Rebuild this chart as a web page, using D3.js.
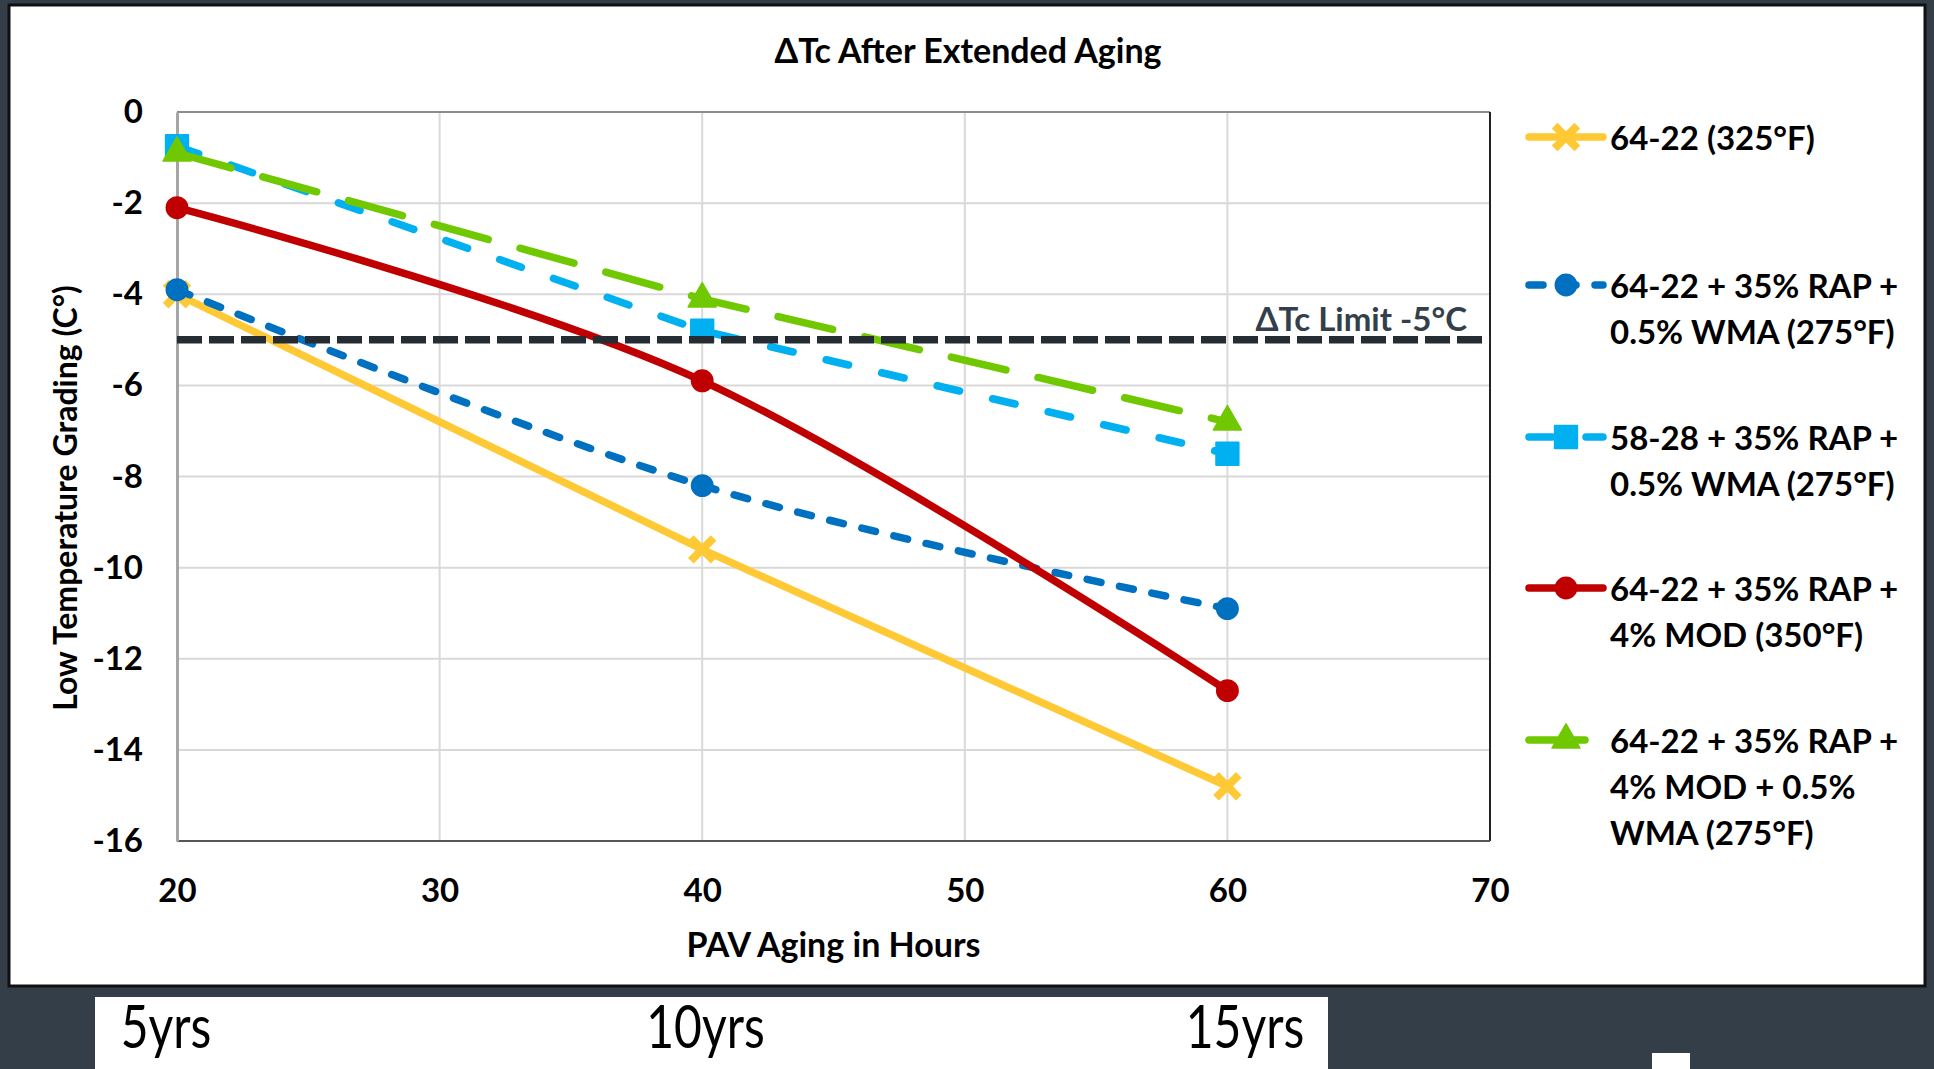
<!DOCTYPE html>
<html>
<head>
<meta charset="utf-8">
<title>ΔTc After Extended Aging</title>
<script src="https://cdn.jsdelivr.net/npm/d3@7"></script>
<style>
  html, body { margin: 0; padding: 0; background: #343e48; }
  svg { display: block; }
  text { font-family: Lato, "Open Sans", sans-serif; }
</style>
</head>
<body>
<svg id="chart" width="1934" height="1069"></svg>
<script>
// PAV aging hours at which each binder was tested
const hours = [20, 40, 60];

// ΔTc (°C) for each binder blend
const plain6422 = [-4.0, -9.6, -14.8];
const rapWma6422 = [-3.9, -8.2, -10.9];
const rapWma5828 = [-0.75, -4.8, -7.5];
const rapMod6422 = [-2.1, -5.9, -12.7];
const rapModWma6422 = [-0.9, -4.1, -6.8];

// Legend labels, one array entry per wrapped line
const labelPlain6422 = ["64-22 (325°F)"];
const labelRapWma6422 = ["64-22 + 35% RAP +", "0.5% WMA (275°F)"];
const labelRapWma5828 = ["58-28 + 35% RAP +", "0.5% WMA (275°F)"];
const labelRapMod6422 = ["64-22 + 35% RAP +", "4% MOD (350°F)"];
const labelRapModWma6422 = ["64-22 + 35% RAP +", "4% MOD + 0.5%", "WMA (275°F)"];

const limitValue = -5;
const limitLabel = "ΔTc Limit -5°C";

const xTicks = [20, 30, 40, 50, 60, 70];
const yTicks = [0, -2, -4, -6, -8, -10, -12, -14, -16];
const serviceYears = ["5yrs", "10yrs", "15yrs"];

const svg = d3.select("#chart");
const W = 1934, H = 1069;

// Frame: dark backdrop, white chart card, white caption strip
svg.append("rect").attr("width", W).attr("height", H).attr("fill", "#343e48");
svg.append("rect").attr("x", 9).attr("y", 5).attr("width", 1916).attr("height", 981)
  .attr("fill", "#ffffff").attr("stroke", "#111111").attr("stroke-width", 3);
svg.append("rect").attr("x", 95).attr("y", 997).attr("width", 1233).attr("height", 80).attr("fill", "#ffffff");
svg.append("rect").attr("x", 1652).attr("y", 1053).attr("width", 38).attr("height", 20).attr("fill", "#ffffff");

const plot = { left: 177, right: 1490, top: 112, bottom: 841 };
const x = d3.scaleLinear().domain([20, 70]).range([plot.left, plot.right]);
const y = d3.scaleLinear().domain([0, -16]).range([plot.top, plot.bottom]);

// Gridlines
const grid = svg.append("g");
grid.selectAll("line.gx").data(xTicks.slice(1)).join("line")
  .attr("x1", d => x(d)).attr("x2", d => x(d))
  .attr("y1", plot.top).attr("y2", plot.bottom)
  .attr("stroke", "#d9d9d9").attr("stroke-width", 2);
grid.selectAll("line.gy").data(yTicks.slice(1, -1)).join("line")
  .attr("x1", plot.left).attr("x2", plot.right)
  .attr("y1", d => y(d)).attr("y2", d => y(d))
  .attr("stroke", "#d9d9d9").attr("stroke-width", 2);

// Plot border
svg.append("line").attr("x1", plot.left).attr("x2", plot.right).attr("y1", plot.top).attr("y2", plot.top)
  .attr("stroke", "#8c8c8c").attr("stroke-width", 2);
svg.append("line").attr("x1", plot.right).attr("x2", plot.right).attr("y1", plot.top).attr("y2", plot.bottom)
  .attr("stroke", "#222222").attr("stroke-width", 2);
svg.append("line").attr("x1", plot.left).attr("x2", plot.right).attr("y1", plot.bottom).attr("y2", plot.bottom)
  .attr("stroke", "#555555").attr("stroke-width", 2);

// Axes (plain hyphen for negatives)
const yAxis = d3.axisLeft(y).tickValues(yTicks).tickSize(0).tickPadding(34).tickFormat(d => String(d));
const gy = svg.append("g").attr("transform", `translate(${plot.left},0)`).call(yAxis);
gy.select(".domain").attr("stroke", "#a6a6a6").attr("stroke-width", 3);
gy.selectAll("text").attr("font-size", 33).attr("font-weight", 700).attr("fill", "#000")
  .attr("font-family", "Lato, sans-serif");

const xAxis = d3.axisBottom(x).tickValues(xTicks).tickSize(0).tickPadding(38).tickFormat(d => String(d));
const gx = svg.append("g").attr("transform", `translate(0,${plot.bottom})`).call(xAxis);
gx.select(".domain").remove();
gx.selectAll("text").attr("font-size", 33).attr("font-weight", 700).attr("fill", "#000")
  .attr("font-family", "Lato, sans-serif");

// Titles
svg.append("text").attr("x", 968).attr("y", 49).attr("text-anchor", "middle").attr("dominant-baseline", "central")
  .attr("font-size", 34).attr("font-weight", 700).text("ΔTc After Extended Aging");
svg.append("text").attr("x", (plot.left + plot.right) / 2).attr("y", 943).attr("text-anchor", "middle")
  .attr("dominant-baseline", "central").attr("font-size", 34).attr("font-weight", 700).text("PAV Aging in Hours");
svg.append("text").attr("transform", "translate(64,498) rotate(-90)").attr("text-anchor", "middle")
  .attr("dominant-baseline", "central").attr("font-size", 32).attr("font-weight", 700)
  .text("Low Temperature Grading (C°)");

// Series definitions
const series = [
  { values: plain6422, label: labelPlain6422, color: "#ffc935", dash: null, curve: d3.curveLinear, marker: "x" },
  { values: rapWma6422, label: labelRapWma6422, color: "#0070c0", dash: "14,19", curve: d3.curveCardinal.tension(0), marker: "circle" },
  { values: rapWma5828, label: labelRapWma5828, color: "#00b0f0", dash: "23,34", curve: d3.curveLinear, marker: "square" },
  { values: rapMod6422, label: labelRapMod6422, color: "#c00000", dash: null, curve: d3.curveCardinal.tension(0), marker: "circle" },
  { values: rapModWma6422, label: labelRapModWma6422, color: "#70c800", dash: "56,33", curve: d3.curveLinear, marker: "triangle" }
];

const symbolFor = {
  x: d3.symbol().type(d3.symbolX).size(340),
  circle: d3.symbol().type(d3.symbolCircle).size(360),
  square: d3.symbol().type(d3.symbolSquare).size(500),
  triangle: d3.symbol().type(d3.symbolTriangle).size(340)
};

function drawMarker(g, s, cx, cy) {
  const p = g.append("path").attr("d", symbolFor[s.marker]()).attr("transform", `translate(${cx},${cy})`);
  if (s.marker === "x") {
    p.attr("fill", "none").attr("stroke", s.color).attr("stroke-width", 8).attr("stroke-linecap", "butt");
  } else if (s.marker === "square") {
    p.attr("fill", s.color).attr("stroke", s.color).attr("stroke-width", 2).attr("stroke-linejoin", "round");
  } else {
    p.attr("fill", s.color).attr("stroke", s.color).attr("stroke-width", 1.5).attr("stroke-linejoin", "round");
  }
}

const lines = svg.append("g");
series.forEach(s => {
  const pts = hours.map((h, i) => [h, s.values[i]]);
  const line = d3.line().x(d => x(d[0])).y(d => y(d[1])).curve(s.curve);
  const g = lines.append("g");
  g.append("path").attr("d", line(pts)).attr("fill", "none").attr("stroke", s.color)
    .attr("stroke-width", 7.5).attr("stroke-linecap", "round").attr("stroke-linejoin", "round")
    .attr("stroke-dasharray", s.dash);
  pts.forEach(d => drawMarker(g, s, x(d[0]), y(d[1])));
});

// -5 °C limit
svg.append("line").attr("x1", plot.left).attr("x2", plot.right)
  .attr("y1", y(limitValue)).attr("y2", y(limitValue))
  .attr("stroke", "#262c33").attr("stroke-width", 7.5).attr("stroke-dasharray", "25,7");
svg.append("text").attr("x", 1467).attr("y", y(limitValue) - 22).attr("text-anchor", "end")
  .attr("dominant-baseline", "central").attr("font-size", 33).attr("font-weight", 700).attr("fill", "#333f4a")
  .text(limitLabel);

// Legend
const legendRows = [137, 285, 437, 588, 740];
const legend = svg.append("g");
series.forEach((s, i) => {
  const ly = legendRows[i];
  const g = legend.append("g");
  g.append("line").attr("x1", 1529).attr("x2", 1603).attr("y1", ly).attr("y2", ly)
    .attr("stroke", s.color).attr("stroke-width", 7.5).attr("stroke-linecap", "round")
    .attr("stroke-dasharray", s.dash);
  drawMarker(g, s, 1566, ly);
  const t = g.append("text").attr("x", 1610).attr("y", ly).attr("dominant-baseline", "central")
    .attr("font-size", 33).attr("font-weight", 700).attr("fill", "#000");
  s.label.forEach((ln, j) => {
    t.append("tspan").attr("x", 1610).attr("y", ly + j * 46).text(ln);
  });
});

// Service-life equivalents under the axis (tall, narrow lettering)
const yearX = d3.scaleLinear().domain([20, 60]).range([166, 1245]);
svg.selectAll("text.yrs").data(serviceYears).join("text")
  .attr("transform", (d, i) => `translate(${yearX(hours[i])},1048) scale(0.8,1)`)
  .attr("text-anchor", "middle")
  .attr("font-size", 60).attr("font-weight", 400).attr("fill", "#000").text(d => d);
</script>
</body>
</html>
